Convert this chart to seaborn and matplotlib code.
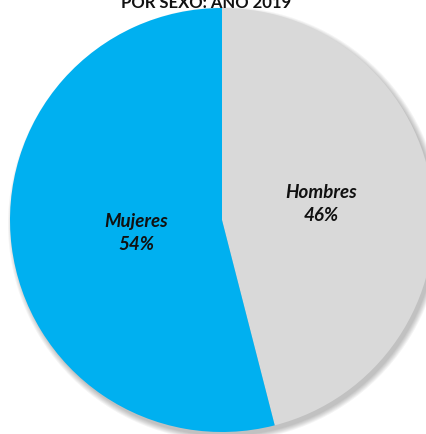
import matplotlib
matplotlib.use("Agg")
import matplotlib.pyplot as plt
from matplotlib.patches import Circle
import seaborn as sns

sns.set_theme(style="white")
plt.rcParams['font.family'] = ['Lato', 'DejaVu Sans']

categories = ["Hombres", "Mujeres"]
values = [46, 54]
colors = ["#D9D9D9", "#00B0F0"]
title = "POR SEXO: AÑO 2019"

W, H = 426, 434
fig = plt.figure(figsize=(W / 100, H / 100), dpi=100)
cx, cy, r = 222, 220, 212
ax = fig.add_axes([(cx - r) / W, (H - cy - r) / H, 2 * r / W, 2 * r / H])

# soft drop shadow
for k in range(6):
    ax.add_patch(Circle((3 / r, -4 / r), 1 + (5 - k) / r, color="#000000",
                        alpha=0.045, linewidth=0, clip_on=False, zorder=0))

wedges, _ = ax.pie(values, colors=colors, startangle=90, counterclock=False,
                   radius=1, wedgeprops=dict(linewidth=0, zorder=2))
for w in wedges:
    w.set_clip_on(False)
ax.set_xlim(-1, 1)
ax.set_ylim(-1, 1)
ax.set_aspect("auto")
ax.axis("off")

label_pos = [((321 - cx) / r, (cy - 204) / r), ((136 - cx) / r, (cy - 233) / r)]
for cat, v, (x, y) in zip(categories, values, label_pos):
    ax.text(x, y, f"{cat}\n{v}%", ha="center", va="center", fontsize=13.5,
            fontweight="bold", fontstyle="italic", color="#111111",
            linespacing=1.45, zorder=5)

fig.text(206 / W, 1 - 8 / H, title, ha="center", va="baseline", fontsize=12,
         fontweight="bold", color="#111111")

fig.savefig("out.png", dpi=100)
